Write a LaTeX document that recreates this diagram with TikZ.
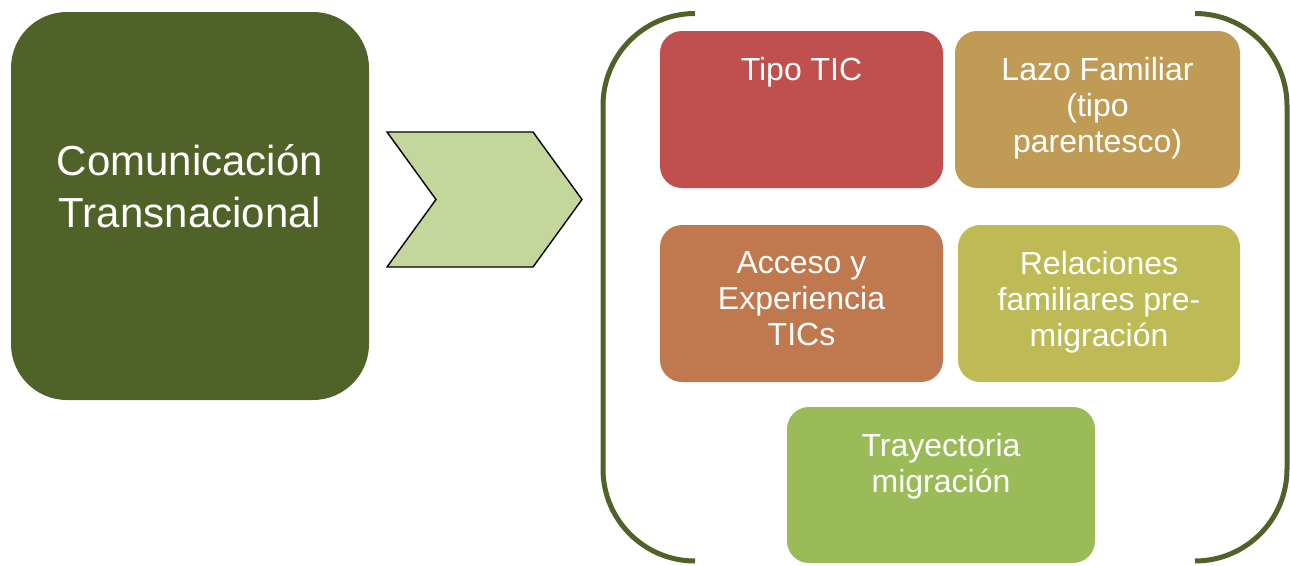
\documentclass[tikz,border=0pt]{standalone}
\usepackage{fontspec}
\setmainfont{Liberation Sans}
\definecolor{darkgreen}{HTML}{4F6228}
\definecolor{chevfill}{HTML}{C3D69B}
\definecolor{cred}{HTML}{C0504D}
\definecolor{ctan}{HTML}{C09B55}
\definecolor{corange}{HTML}{C0784F}
\definecolor{colive}{HTML}{BEBB56}
\definecolor{cgreen}{HTML}{9BBB59}
\tikzset{
  card/.style={rounded corners=22pt, draw=none, inner sep=0pt},
  cardtext/.style={text=white, align=center, inner sep=0pt, font=\fontsize{32}{36}\selectfont, anchor=north},
  bigtext/.style={text=white, align=center, inner sep=0pt, font=\fontsize{42}{52}\selectfont},
  bracket/.style={draw=darkgreen, line width=5pt, rounded corners=92pt}
}
\begin{document}
\begin{tikzpicture}[x=1pt,y=-1pt]
\useasboundingbox (0,0) rectangle (1290,565);
% left box
\node[card, rounded corners=56pt, fill=darkgreen, minimum width=358pt, minimum height=388pt] (main) at (190,206) {};
\node[bigtext] (maintext) at (190,186) {Comunicación\\Transnacional};
% chevron
\coordinate (c1) at (387,132);
\coordinate (c2) at (533,132);
\coordinate (c3) at (582,199.5);
\coordinate (c4) at (533,267);
\coordinate (c5) at (387,267);
\coordinate (c6) at (436,199.5);
\draw[fill=chevfill, draw=black, line width=1.4pt] (c1) -- (c2) -- (c3) -- (c4) -- (c5) -- (c6) -- cycle;
% brackets
\coordinate (bl1) at (695,13.5);
\coordinate (bl2) at (603,13.5);
\coordinate (bl3) at (603,561);
\coordinate (bl4) at (695,561);
\draw[bracket] (bl1) -- (bl2) -- (bl3) -- (bl4);
\coordinate (br1) at (1195,13.5);
\coordinate (br2) at (1287,13.5);
\coordinate (br3) at (1287,561);
\coordinate (br4) at (1195,561);
\draw[bracket] (br1) -- (br2) -- (br3) -- (br4);
% cards
\node[card, fill=cred, minimum width=283pt, minimum height=157pt] (tipo) at (801.5,109.5) {};
\node[cardtext] (tipot) at ([yshift=-26pt]tipo.north) {Tipo TIC};
\node[card, fill=ctan, minimum width=285pt, minimum height=157pt] (lazo) at (1097.5,109.5) {};
\node[cardtext] (lazot) at ([yshift=-26pt]lazo.north) {Lazo Familiar\\(tipo\\parentesco)};
\node[card, fill=corange, minimum width=283pt, minimum height=157pt] (acceso) at (801.5,303.5) {};
\node[cardtext] (accesot) at ([yshift=-26pt]acceso.north) {Acceso y\\Experiencia\\TICs};
\node[card, fill=colive, minimum width=282pt, minimum height=157pt] (rel) at (1099,303.5) {};
\node[cardtext] (relt) at ([yshift=-26pt]rel.north) {Relaciones\\familiares pre-\\migración};
\node[card, fill=cgreen, minimum width=308pt, minimum height=156pt] (tray) at (941,485) {};
\node[cardtext] (trayt) at ([yshift=-26pt]tray.north) {Trayectoria\\migración};
\end{tikzpicture}
\end{document}
